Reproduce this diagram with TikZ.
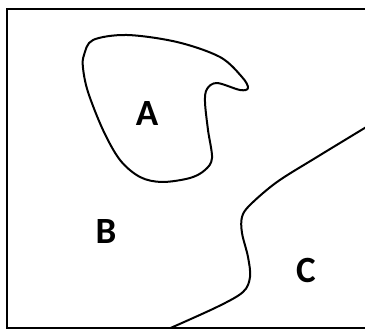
\documentclass[tikz,border=0pt]{standalone}
\usepackage{fontspec}
\setmainfont{Carlito}
\begin{document}
\begin{tikzpicture}[x=1pt,y=-1pt,
  region/.style={line width=2pt, line join=round},
  lbl/.style={font=\fontsize{37}{40}\selectfont\bfseries, inner sep=0pt}]
\useasboundingbox (0,0) rectangle (365,329);
\clip (0,0) rectangle (365,329);
\draw[line width=2.2pt] (372,9) -- (7,9) -- (7,328) -- (372,328);
% region A
\draw[region] plot[smooth cycle, tension=0.55] coordinates {
 (84,55) (93,40) (127,35) (177,42) (220,57) (242,77) (248,88) (240,90)
 (217,83) (207,89) (205,102) (208,130) (212,158) (205,170) (190,178)
 (162,182) (140,177) (120,160) (103,130) (88,92) (83,68)};
% boundary B/C
\draw[region] plot[smooth, tension=0.55] coordinates {
 (166,330) (217,307) (243,292) (250,277) (248,257) (242,233) (242,217)
 (250,205) (277,182) (317,157) (368,126)};
\node[lbl] (A) at (147,114) {A};
\node[lbl] (B) at (106,232) {B};
\node[lbl] (C) at (306,270) {C};
\end{tikzpicture}
\end{document}
